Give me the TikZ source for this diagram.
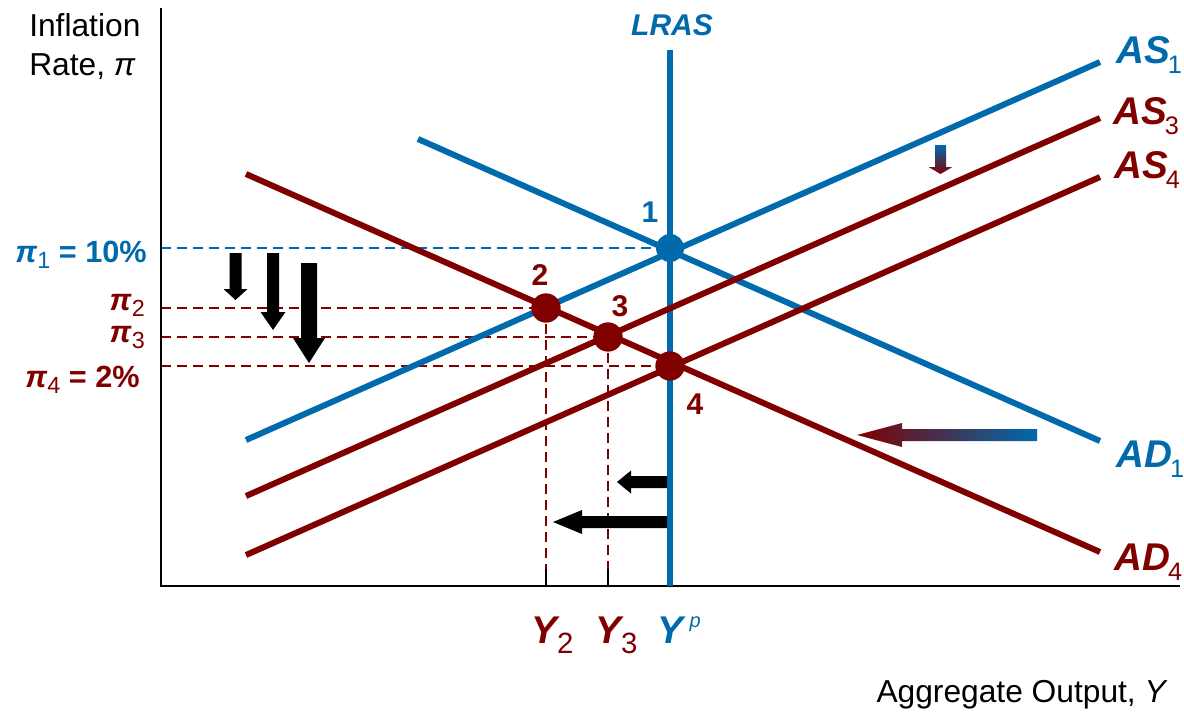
\documentclass[tikz,border=0pt]{standalone}
\usepackage{fontspec}
\setmainfont{Liberation Sans}
\newcommand\myfs[1]{\fontsize{#1}{#1}\selectfont}
\newcommand\mysub[2]{\kern-1.5pt\raisebox{-7.5pt}{\myfs{#1}\normalfont #2}}
\definecolor{myblue}{RGB}{0,106,172}
\definecolor{myred}{RGB}{128,0,0}
\begin{document}
\begin{tikzpicture}[x=0.75pt,y=-0.75pt,
  axisline/.style={line width=1.6pt, black},
  curve/.style={line width=4.5pt},
  dashline/.style={line width=1.5pt, dash pattern=on 7.5pt off 4.5pt},
  dotnode/.style={circle, inner sep=0pt, minimum size=22pt},
  arrowfill/.style={fill=black},
  axlabel/.style={inner sep=0pt, font=\myfs{23.8}},
  curvelabel/.style={inner sep=0pt, anchor=base west, font=\myfs{29}\bfseries\itshape},
  pilabel/.style={inner sep=0pt, anchor=base east, font=\myfs{23}\bfseries},
  numlabel/.style={inner sep=0pt, font=\myfs{22.5}\bfseries},
  ylabel/.style={inner sep=0pt, anchor=base west, font=\myfs{29}\bfseries\itshape}
]
\useasboundingbox (0,0) rectangle (1184,711);

% key points
\coordinate (p1) at (670,248);
\coordinate (p2) at (546,308);
\coordinate (p3) at (608,337);
\coordinate (p4) at (670,366);
\coordinate (O) at (161,586);
\coordinate (ytop) at (161,8);
\coordinate (xend) at (1180,586);
\coordinate (t2) at (546,569);
\coordinate (t3) at (608,569);

% dashed guide lines
\draw[dashline, myblue] (O |- p1) -- (p1);
\draw[dashline, myred] (O |- p2) -- (p2);
\draw[dashline, myred] (O |- p3) -- (p3);
\draw[dashline, myred] (O |- p4) -- (p4);
\draw[dashline, myred] (p2) -- (t2);
\draw[dashline, myred] (p3) -- (t3);
\draw[line width=1.5pt, black] (t2) -- (t2 |- O);
\draw[line width=1.5pt, black] (t3) -- (t3 |- O);

% axes
\draw[axisline] (ytop) -- (O) -- (xend);

% blue curves
\coordinate (lrasTop) at (670,50);
\coordinate (lrasBot) at (670,586);
\coordinate (as1a) at (246,440); \coordinate (as1b) at (1100,62);
\coordinate (ad1a) at (418,139); \coordinate (ad1b) at (1100,441);
\draw[curve, myblue] (as1a) -- (as1b);
\draw[curve, myblue] (ad1a) -- (ad1b);
\draw[curve, myblue] (lrasTop) -- (lrasBot);

% red curves
\coordinate (as3a) at (246,496); \coordinate (as3b) at (1100,118);
\coordinate (as4a) at (246,555); \coordinate (as4b) at (1100,177);
\coordinate (ad4a) at (246,174); \coordinate (ad4b) at (1100,552);
\draw[curve, myred] (as3a) -- (as3b);
\draw[curve, myred] (as4a) -- (as4b);
\draw[curve, myred] (ad4a) -- (ad4b);

% dots
\node[dotnode, fill=myblue, minimum size=21pt] (d1) at (p1) {};
\node[dotnode, fill=myred] (d2) at (p2) {};
\node[dotnode, fill=myred] (d3) at (p3) {};
\node[dotnode, fill=myred] (d4) at (p4) {};

% point numbers
\node[numlabel, text=myblue] (n1) at (650,212) {1};
\node[numlabel, text=myred] (n2) at (540,275) {2};
\node[numlabel, text=myred] (n3) at (620,306) {3};
\node[numlabel, text=myred] (n4) at (695,404) {4};

% black arrows (vertical)
\fill[arrowfill] (229.5,253) -- (241.5,253) -- (241.5,289) -- (247.5,289) -- (235.5,300) -- (223.5,289) -- (229.5,289) -- cycle;
\fill[arrowfill] (267,253) -- (279,253) -- (279,312) -- (285.5,312) -- (273,330) -- (260.5,312) -- (267,312) -- cycle;
\fill[arrowfill] (301,263) -- (317,263) -- (317,338) -- (325,338) -- (309,363) -- (293,338) -- (301,338) -- cycle;
% black arrows (horizontal)
\fill[arrowfill] (667,476) -- (667,488) -- (631,488) -- (631,493.5) -- (617,482) -- (631,470.5) -- (631,476) -- cycle;
\fill[arrowfill] (667,516) -- (667,528) -- (582,528) -- (582,534) -- (553,522) -- (582,510) -- (582,516) -- cycle;

% gradient arrows
\shade[top color=myblue, bottom color=myred] (935,145) -- (946,145) -- (946,167) -- (952.5,167) -- (940.5,174) -- (928.5,167) -- (935,167) -- cycle;
\shade[left color=myred, right color=myblue] (1037,429) -- (1037,441) -- (902,441) -- (902,447) -- (857,435) -- (902,423) -- (902,429) -- cycle;

% curve labels
\node[text=myblue, inner sep=0pt, anchor=base, font=\myfs{22.5}\bfseries\itshape] (lras) at (672,35) {LRAS};
\node[curvelabel, text=myblue] (las1) at (1116,63) {AS\mysub{19}{1}};
\node[curvelabel, text=myred] (las3) at (1113,124) {AS\mysub{19}{3}};
\node[curvelabel, text=myred] (las4) at (1114,178) {AS\mysub{19}{4}};
\node[curvelabel, text=myblue] (lad1) at (1116,467) {AD\mysub{19}{1}};
\node[curvelabel, text=myred] (lad4) at (1114,570) {AD\mysub{19}{4}};

% inflation labels
\node[pilabel, text=myblue] (pi1) at (147,262) {\textit{π}\raisebox{-4.5pt}{\myfs{17.5}\normalfont 1} = 10\%};
\node[pilabel, text=myred] (pi2) at (145,310) {\textit{π}\raisebox{-4.5pt}{\myfs{17.5}\normalfont 2}};
\node[pilabel, text=myred] (pi3) at (145,342) {\textit{π}\raisebox{-4.5pt}{\myfs{17.5}\normalfont 3}};
\node[pilabel, text=myred] (pi4) at (140,387) {\textit{π}\raisebox{-4.5pt}{\myfs{17.5}\normalfont 4} = 2\%};

% output labels
\node[ylabel, text=myred] (y2) at (531,643) {Y\raisebox{-7.5pt}{\myfs{22}\normalfont 2}};
\node[ylabel, text=myred] (y3) at (595,643) {Y\raisebox{-7.5pt}{\myfs{22}\normalfont 3}};
\node[ylabel, text=myblue] (yp) at (657,643) {Y\,\raisebox{11.7pt}{\myfs{15}\normalfont\itshape p}};

% axis titles
\node[axlabel, anchor=base west] (ax1) at (29,36) {Inflation};
\node[axlabel, anchor=base west] (ax2) at (29,75) {Rate, \textit{π}};
\node[axlabel, anchor=base east] (ax3) at (1168,702) {Aggregate Output, \textit{Y}};
\end{tikzpicture}
\end{document}
